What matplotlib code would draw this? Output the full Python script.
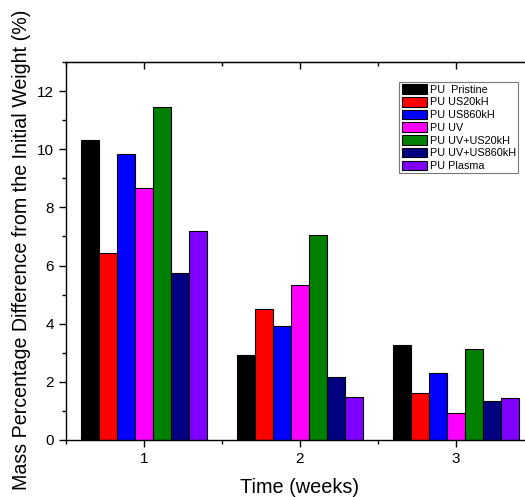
import numpy as np
import matplotlib
matplotlib.use("Agg")
import matplotlib.pyplot as plt
from matplotlib.ticker import MultipleLocator

plt.rcParams['font.family'] = ['Liberation Sans', 'DejaVu Sans']

# mass change per sample after each week of exposure
weeks = [1, 2, 3]
samples = ["PU  Pristine", "PU US20kH", "PU US860kH", "PU UV",
           "PU UV+US20kH", "PU UV+US860kH", "PU Plasma"]
pristine = [10.31, 2.91, 3.28]
us20 = [6.44, 4.49, 1.62]
us860 = [9.82, 3.93, 2.29]
uv = [8.67, 5.32, 0.92]
uv_us20 = [11.44, 7.04, 3.13]
uv_us860 = [5.76, 2.16, 1.33]
plasma = [7.20, 1.49, 1.44]

series = [pristine, us20, us860, uv, uv_us20, uv_us860, plasma]
colors = ["#000000", "#FF0000", "#0000FF", "#FF00FF",
          "#008000", "#000080", "#8000FF"]

fig = plt.figure(figsize=(5.25, 4.97), dpi=100)
ax = fig.add_axes([0.1257, 0.1147, 0.8914, 0.7606])

bw = 0.1154
x = np.array(weeks, dtype=float)
for i, (vals, c, name) in enumerate(zip(series, colors, samples)):
    offs = (i - 3) * bw
    ax.bar(x + offs, vals, bw, color=c, edgecolor="black", linewidth=0.8,
           label=name)

ax.set_xlim(0.5, 3.5)
ax.set_ylim(0, 13)
ax.set_xticks(weeks)
ax.xaxis.set_minor_locator(MultipleLocator(0.5))
ax.yaxis.set_major_locator(MultipleLocator(2))
ax.yaxis.set_minor_locator(MultipleLocator(1))

ax.tick_params(axis="both", which="major", labelsize=11, width=1, length=5,
               direction="out")
ax.tick_params(axis="both", which="minor", width=1, length=3, direction="out")
ax.tick_params(axis="y", which="both", right=True, labelright=False)
for sp in ax.spines.values():
    sp.set_linewidth(1)

# ticks on the top edge point inward
ax2 = ax.secondary_xaxis("top")
ax2.set_xticks(weeks)
ax2.xaxis.set_minor_locator(MultipleLocator(0.5))
ax2.tick_params(which="major", direction="in", length=5, width=1, labeltop=False)
ax2.tick_params(which="minor", direction="in", length=3, width=1)
ax2.set_xticklabels([])
ax.tick_params(axis="x", which="both", top=False)

ax.set_xlabel("Time (weeks)", fontsize=14.3, labelpad=9)
ax.set_ylabel("Mass Percentage Difference from the Initial Weight (%)",
              fontsize=14.1)
ax.yaxis.set_label_coords(-0.075, 0.504)

leg = ax.legend(loc="upper right", bbox_to_anchor=(0.966, 0.947),
                fontsize=7.8, frameon=True, fancybox=False, borderpad=0.2,
                labelspacing=0.2, handlelength=2.3, handleheight=1.0,
                handletextpad=0.3, borderaxespad=0)
leg.get_frame().set_edgecolor("#555555")
leg.get_frame().set_linewidth(0.8)

fig.savefig("out.png", dpi=100)
